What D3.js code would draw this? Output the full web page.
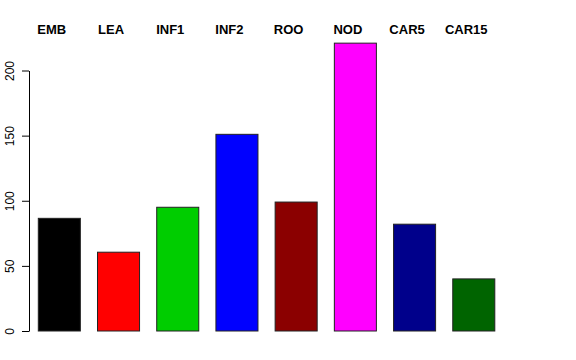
<!DOCTYPE html>
<html>
<head>
<meta charset="utf-8">
<script src="https://cdn.jsdelivr.net/npm/d3@7"></script>
<style>
  body { margin: 0; background: #fff; }
  text { font-family: "Liberation Sans", Arial, Helvetica, sans-serif; }
</style>
</head>
<body>
<div id="canvas"></div>
<script>
'use strict';

const categories = ['EMB', 'LEA', 'INF1', 'INF2', 'ROO', 'NOD', 'CAR5', 'CAR15'];
const counts = [86.5, 60.5, 95, 151, 99, 221, 82, 40];
const barColors = ['#000000', '#ff0000', '#00cd00', '#0000ff',
  '#8b0000', '#ff00ff', '#00008b', '#006400'];
const yTicks = [0, 50, 100, 150, 200];

const width = 576;
const height = 360;

const svg = d3.select('#canvas').append('svg')
    .attr('width', width)
    .attr('height', height);

const x = d3.scaleBand()
    .domain(categories)
    .range([38.3, 494.8])
    .paddingInner(0.29)
    .paddingOuter(0);

const y = d3.scaleLinear()
    .domain([0, 200])
    .range([331, 70.5]);

// Bars.
svg.selectAll('.bar')
    .data(categories)
    .enter()
    .append('rect')
    .attr('class', 'bar')
    .attr('x', d => x(d))
    .attr('y', (d, i) => y(counts[i]))
    .attr('width', x.bandwidth())
    .attr('height', (d, i) => y(0) - y(counts[i]))
    .attr('fill', (d, i) => barColors[i])
    .attr('stroke', '#222')
    .attr('stroke-width', 1);

// Category labels along the top.
svg.selectAll('.cat-label')
    .data(categories)
    .enter()
    .append('text')
    .attr('class', 'cat-label')
    .attr('x', d => x(d) + x.bandwidth() / 2 - 7.5)
    .attr('y', 34)
    .attr('text-anchor', 'middle')
    .attr('font-size', 13)
    .attr('font-weight', 'bold')
    .text(d => d);

// Y axis with rotated tick labels, R style.
const yAxis = svg.append('g')
    .attr('transform', 'translate(29, 0)')
    .call(d3.axisLeft(y).tickValues(yTicks).tickSize(7).tickSizeOuter(0));
yAxis.select('.domain').attr('stroke', '#000');
yAxis.selectAll('.tick line').attr('stroke', '#000');
yAxis.selectAll('.tick text')
    .attr('x', 0)
    .attr('y', 0)
    .attr('dy', null)
    .attr('transform', 'translate(-15, 0) rotate(-90)')
    .attr('text-anchor', 'middle')
    .attr('font-size', 12)
    .attr('font-family', '"Liberation Sans", Arial, sans-serif')
    .attr('fill', '#000');
</script>
</body>
</html>
